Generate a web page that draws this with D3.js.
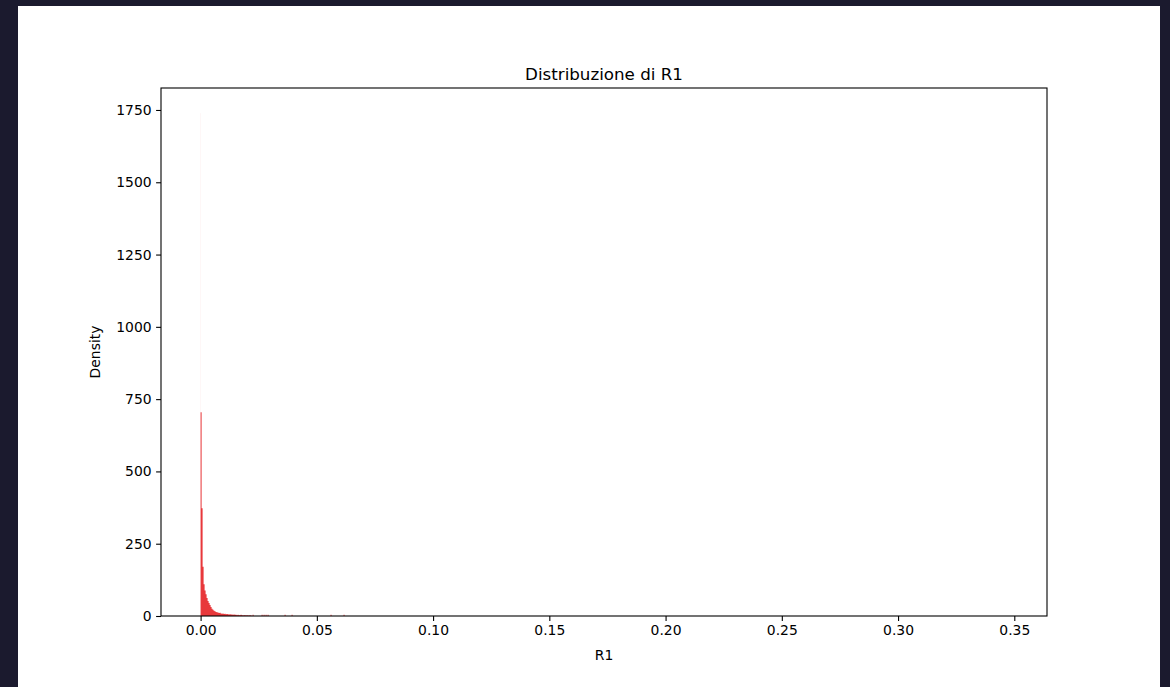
<!DOCTYPE html>
<html>
<head>
<meta charset="utf-8">
<script src="https://cdn.jsdelivr.net/npm/d3@7"></script>
<style>
  html, body { margin: 0; padding: 0; background: #1b1a2e; }
  svg { display: block; }
  text { font-family: "DejaVu Sans", sans-serif; fill: #000; }
</style>
</head>
<body>
<svg id="chart" width="1170" height="687"></svg>
<script>
// Histogram of R1 (density), fine-grained bins starting at 0
const binStart = 0;
const binWidth = 0.00043;
const densities = [
  705, 373, 170, 110, 88, 75, 62, 52, 45, 38,
  31, 25, 22, 18, 16, 14, 13, 12, 10, 11,
  9, 8, 9, 7, 8, 6, 7, 6, 5, 6,
  5, 5, 4, 5, 4, 4, 3, 4, 3, 3,
  4, 3, 2, 3, 3, 2, 3, 2, 2, 3,
  2, 0, 4, 0, 0, 0, 0, 0, 0, 0,
  0, 4, 0, 4, 0, 4, 0, 4, 0, 0,
  0, 0, 0, 0, 0, 0, 0, 0, 0, 0,
  0, 0, 0, 0, 4, 0, 0, 0, 0, 0,
  0, 4, 0, 0, 0, 0, 0, 0, 0, 0,
  0, 0, 0, 0, 0, 0, 0, 0, 0, 0,
  0, 0, 0, 0, 0, 0, 0, 0, 0, 0,
  0, 0, 0, 0, 0, 0, 0, 0, 0, 0,
  4, 0, 0, 0, 0, 0, 0, 0, 0, 0,
  0, 0, 0, 4
];
// Very narrow first bin holding the zero-valued samples
const spikeWidth = 0.00003;
const spikeDensity = 1739;

const xTicks = [0.00, 0.05, 0.10, 0.15, 0.20, 0.25, 0.30, 0.35];
const yTicks = [0, 250, 500, 750, 1000, 1250, 1500, 1750];
const xDomain = [-0.017034, 0.364066];
const yDomain = [0, 1826];

const titleText = "Distribuzione di R1";
const xLabel = "R1";
const yLabel = "Density";

const svg = d3.select("#chart");
const W = 1170, H = 687;

// figure panel
svg.append("rect").attr("x", 18).attr("y", 6).attr("width", 1142).attr("height", H - 6).attr("fill", "#ffffff");

const plot = { left: 161, right: 1047, top: 88, bottom: 616 };

const x = d3.scaleLinear().domain(xDomain).range([plot.left, plot.right]);
const y = d3.scaleLinear().domain(yDomain).range([plot.bottom, plot.top]);

const bins = densities.map((d, i) => ({
  x0: binStart + i * binWidth,
  x1: binStart + (i + 1) * binWidth,
  v: d
})).filter(b => b.v > 0);

const barColor = "#e8383b";

// thin spike behind the regular bars
svg.append("rect")
  .attr("x", x(binStart))
  .attr("width", x(binStart + spikeWidth) - x(binStart))
  .attr("y", y(spikeDensity))
  .attr("height", y(0) - y(spikeDensity))
  .attr("fill", barColor)
  .attr("fill-opacity", 0.6);

// all bars as one path so neighbouring bins join without seams
const barPath = d3.path();
bins.forEach(b => {
  const x0 = x(b.x0), x1 = x(b.x1), y0 = y(0), y1 = y(b.v);
  barPath.moveTo(x0, y0);
  barPath.lineTo(x0, y1);
  barPath.lineTo(x1, y1);
  barPath.lineTo(x1, y0);
  barPath.closePath();
});
svg.append("path").attr("d", barPath.toString()).attr("fill", barColor);

// axes
const xAxis = d3.axisBottom(x).tickValues(xTicks).tickFormat(d3.format(".2f")).tickSize(4.9).tickPadding(4.5);
const yAxis = d3.axisLeft(y).tickValues(yTicks).tickFormat(d3.format("d")).tickSize(4.9).tickPadding(4.5);

const gx = svg.append("g").attr("transform", `translate(0,${plot.bottom})`).call(xAxis);
const gy = svg.append("g").attr("transform", `translate(${plot.left},0)`).call(yAxis);
[gx, gy].forEach(g => {
  g.select(".domain").remove();
  g.selectAll(".tick line").attr("stroke", "#000").attr("stroke-width", 1.1);
  g.selectAll(".tick text").attr("font-size", "13.9px").attr("font-family", "DejaVu Sans, sans-serif").attr("fill", "#000");
});

// frame
svg.append("rect")
  .attr("x", plot.left).attr("y", plot.top)
  .attr("width", plot.right - plot.left).attr("height", plot.bottom - plot.top)
  .attr("fill", "none").attr("stroke", "#000").attr("stroke-width", 1.1);

// labels
svg.append("text").attr("x", (plot.left + plot.right) / 2).attr("y", 80)
  .attr("text-anchor", "middle").attr("font-size", "16.7px").text(titleText);
svg.append("text").attr("x", (plot.left + plot.right) / 2).attr("y", 660)
  .attr("text-anchor", "middle").attr("font-size", "13.9px").text(xLabel);
svg.append("text").attr("transform", `translate(100,${(plot.top + plot.bottom) / 2}) rotate(-90)`)
  .attr("text-anchor", "middle").attr("font-size", "13.9px").text(yLabel);
</script>
</body>
</html>
